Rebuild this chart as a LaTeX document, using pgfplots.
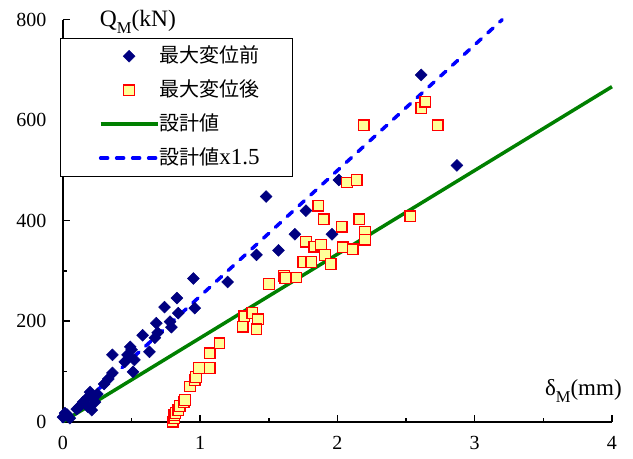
\documentclass[border=0pt]{standalone}
\usepackage{fontspec}
\setmainfont{Liberation Serif}
\newfontfamily\jp{Noto Sans CJK JP}
\usepackage{pgfplots}
\pgfplotsset{compat=1.18}
\definecolor{dnavy}{RGB}{0,0,128}
\definecolor{dgreen}{RGB}{0,128,0}
\definecolor{lyellow}{RGB}{255,255,153}
\newcommand{\jpt}[1]{{\jp\fontsize{20}{24}\selectfont #1}}
\pgfplotstableread{
x y
0.00 9
0.015 17
0.05 7
0.03 14
0.10 25
0.12 30
0.146 39
0.175 47
0.18 30
0.197 59
0.21 23
0.22 50
0.233 39
0.25 55
0.30 75
0.33 85
0.36 97
0.36 133
0.45 119
0.47 133
0.49 149
0.50 143
0.51 99
0.52 123
0.58 172
0.63 139
0.67 167
0.68 196
0.69 177
0.74 228
0.78 199
0.79 188
0.83 246
0.84 216
0.96 226
0.95 285
1.20 278
1.41 332
1.48 448
1.57 341
1.69 373
1.77 420
1.96 373
2.01 481
2.61 690
2.87 510
}\before
\pgfplotstableread{
x y
0.80 0
0.81 7
0.81 13
0.82 17
0.84 23
0.85 31
0.88 39
0.89 43
0.925 70
0.96 83
0.97 89
0.99 107
1.07 107
1.07 136
1.14 156
1.31 189
1.32 210
1.38 216
1.42 204
1.41 184
1.50 274
1.61 290
1.62 286
1.70 287
1.75 318
1.81 318
1.77 358
1.83 348
1.88 352
1.91 332
1.95 314
1.86 430
1.90 403
2.03 388
2.04 347
2.11 343
2.16 403
2.20 378
2.20 362
2.07 476
2.14 481
2.53 409
2.19 590
2.61 624
2.64 637
2.73 590
}\after
\begin{document}
\begin{tikzpicture}
\begin{axis}[
  scale only axis, width=549pt, height=402pt,
  xmin=0, xmax=4, ymin=0, ymax=800,
  clip=false,
  axis x line*=bottom, axis y line*=left,
  axis line style={black, line width=1.8pt, -},
  tick pos=left,
  tick align=inside,
  xtick={0,1,2,3,4}, minor xtick={0.5,1.5,2.5,3.5},
  ytick={0,200,400,600,800}, minor ytick={100,300,500,700},
  major tick length=7pt, minor tick length=4pt,
  every tick/.style={black, line width=1.5pt},
  /pgf/number format/assume math mode=true,
  xticklabel style={font=\fontsize{20}{24}\selectfont, yshift=-11pt},
  yticklabel style={font=\fontsize{20}{24}\selectfont, xshift=-13pt},
  legend image code/.code={\path (0pt,0pt); \draw[mark repeat=2,mark phase=2,#1] plot coordinates {(6pt,0pt)(34.5pt,0pt)(63pt,0pt)};},
  legend cell align=left,
  legend style={at={(axis description cs:-0.0055,0.955)}, anchor=north west,
    draw=black, line width=0.8pt, inner xsep=32.5pt, inner ysep=8pt,
    row sep=14pt, font=\fontsize{23}{26}\selectfont,
    nodes={inner sep=0pt, text height=16pt, text depth=4pt},
    /tikz/every even column/.append style={column sep=4pt}},
]
\addplot[only marks, mark=square*, mark size=4.2pt, mark options={rotate=45, fill=dnavy, draw=dnavy, line width=0.5pt}] table[x=x,y=y]{\before};
\addlegendentry{\jpt{最大変位前}}
\addplot[forget plot, blue, line width=3.5pt, line cap=round, dash pattern=on 7pt off 9pt] coordinates {(0,0) (3.2,800)};
\addplot[forget plot, dgreen, line width=3.5pt] coordinates {(0,0) (4,666.7)};
\addplot[only marks, mark=square*, mark size=5.3pt, mark options={fill=lyellow, draw=red, line width=1.3pt}] table[x=x,y=y]{\after};
\addlegendentry{\jpt{最大変位後}}
\addlegendimage{dgreen, line width=3.5pt}
\addlegendentry{\jpt{設計値}}
\addlegendimage{blue, line width=3.5pt, line cap=round, dash pattern=on 7pt off 9pt}
\addlegendentry{\jpt{設計値}x1.5}
\node[anchor=base west, font=\fontsize{23.5}{28}\selectfont, inner sep=0pt] at (axis description cs:0.067,0.982) {Q\raisebox{-0.3em}{\fontsize{16.5}{17}\selectfont M}(kN)};
\node[anchor=base east, font=\fontsize{23}{28}\selectfont, inner sep=0pt] at (axis description cs:1.018,0.064) {δ\raisebox{-0.3em}{\fontsize{16.5}{17}\selectfont M}(mm)};
\coordinate (bl) at (axis description cs:-0.11475,-0.0928);
\coordinate (tr) at (axis description cs:1.0383,1.049);
\end{axis}
\path (bl) rectangle (tr);
\end{tikzpicture}
\end{document}
